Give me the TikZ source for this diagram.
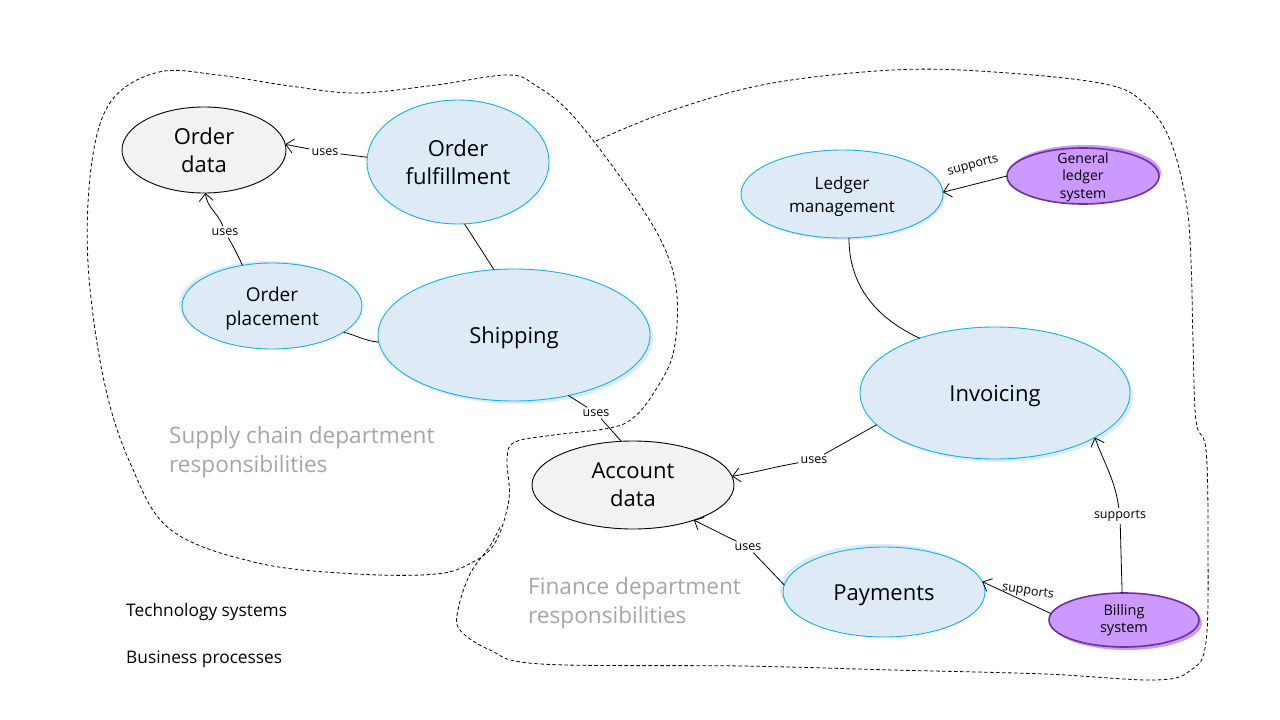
\documentclass[tikz,border=0pt]{standalone}
\usepackage{fontspec}
\setmainfont{Open Sans}
\usetikzlibrary{shapes.geometric,arrows.meta,shadows}
\definecolor{bfill}{HTML}{DEEBF7}
\definecolor{bline}{HTML}{12B2EE}
\definecolor{gfill}{HTML}{F2F2F2}
\definecolor{pfill}{HTML}{CC99FF}
\definecolor{pline}{HTML}{7030A0}
\definecolor{dept}{HTML}{A6A6A6}
\newcommand{\lowr}[1]{\rule{0pt}{#1}}
\tikzset{
 ell/.style={ellipse, inner sep=0pt, outer sep=0pt, align=center},
 biz/.style={ell, fill=bfill, draw=bline, line width=0.9pt},
 dat/.style={ell, fill=gfill, draw=black, line width=0.9pt},
 tech/.style={ell, fill=pfill, draw=pline, line width=1.6pt, inner ysep=-8pt},
 big/.style={font=\fontsize{22}{28}\selectfont},
 mid/.style={font=\fontsize{17}{23}\selectfont},
 small/.style={font=\fontsize{14}{17.5}\selectfont},
 lbl/.style={font=\fontsize{12.5}{14}\selectfont, inner sep=2pt},
 deptlbl/.style={font=\fontsize{22.6}{28.5}\selectfont, text=dept, align=left, anchor=west, inner sep=0pt},
 legend/.style={font=\fontsize{17.3}{20}\selectfont, anchor=west, inner sep=0pt},
 conn/.style={line width=0.8pt},
 arr/.style={conn, -{Straight Barb[length=7.5pt,width=14pt]}},
 bound/.style={dash pattern=on 3.5pt off 2.5pt, line width=0.8pt},
}
\begin{document}
\begin{tikzpicture}[x=1pt,y=-1pt]
\useasboundingbox[fill=white] (0,0) rectangle (1280,720);

% department boundaries
\draw[bound] plot[smooth cycle, tension=0.6] coordinates {
 (88,263) (92,161) (112,100) (159,72) (218,75) (290,86) (357,93) (436,85)
 (507,75) (535,85) (574,117) (633,195) (665,249) (677,296) (673,354) (653,394)
 (633,418) (610,428) (554,435) (515,442) (507,459) (509,499) (495,543) (471,563)
 (436,574) (357,574) (258,563) (171,530) (131,465) (104,381)};
\draw[bound] plot[smooth, tension=0.6] coordinates {
 (596,141) (667,112) (767,84) (893,70) (994,72) (1105,84) (1145,104) (1170,140)
 (1186,201) (1191,261) (1193,341) (1196,421) (1206,450) (1208,542) (1206,642)
 (1191,670) (1155,680) (1045,674) (893,670) (742,666) (541,664) (490,650)
 (460,630) (458,610) (470,574) (490,546) (501,525)};

% nodes
\node[dat, big, minimum width=164pt, minimum height=86pt] (od) at (204,150) {Order\\data};
\node[biz, big, minimum width=182pt, minimum height=124pt] (of) at (458,162) {Order\\fulfillment};
\node[biz, font=\fontsize{19}{24}\selectfont, minimum width=180pt, minimum height=86pt,
      general shadow={fill=bfill, shadow xshift=-3pt, shadow yshift=2pt}] (op) at (272,306) {\lowr{20pt}Order\\placement};
\node[biz, big, minimum width=272pt, minimum height=132pt,
      general shadow={fill=bfill, shadow xshift=3pt, shadow yshift=-3pt}] (sh) at (514,335) {\lowr{22pt}Shipping};
\node[dat, big, minimum width=202pt, minimum height=88pt] (ad) at (633,485) {Account\\data};
\node[biz, mid, minimum width=202pt, minimum height=88pt,
      general shadow={fill=bfill, shadow xshift=2pt, shadow yshift=-2pt}] (lm) at (842,194) {\lowr{18.5pt}Ledger\\management};
\node[tech, small, minimum width=152pt, minimum height=56pt,
      general shadow={fill=pfill, shadow xshift=2pt, shadow yshift=3pt}] (gls) at (1083,176) {\lowr{13pt}General\\ledger\\system};
\node[biz, big, minimum width=270pt, minimum height=132pt,
      general shadow={fill=bfill, shadow xshift=3pt, shadow yshift=-3pt}] (inv) at (995,393) {\lowr{22pt}Invoicing};
\node[biz, big, minimum width=202pt, minimum height=90pt,
      general shadow={fill=bfill, shadow xshift=-3pt, shadow yshift=3pt}] (pay) at (884,592) {\lowr{22pt}Payments};
\node[tech, font=\fontsize{14.5}{17}\selectfont, minimum width=150pt, minimum height=54pt,
      general shadow={fill=pfill, shadow xshift=3pt, shadow yshift=-3pt}] (bill) at (1124,620) {Billing\\system};

% labels
\node[lbl] (u1) at (325,152) {uses};
\node[lbl] (u2) at (225,232) {uses};
\node[lbl] (u3) at (596,413) {uses};
\node[lbl] (u4) at (814,460) {uses};
\node[lbl] (u5) at (748,547) {uses};
\node[lbl, rotate=15] (s1) at (973,166) {supports};
\node[lbl] (s2) at (1120,516) {supports};
\node[lbl, rotate=-8] (s3) at (1028,592) {supports};

% connectors
\draw[conn] (of.177) -- (u1);
\draw[arr] (u1) -- (od.4);
\draw[conn] (op.126) to[out=115,in=-60] (u2);
\draw[arr] (u2) to[out=110,in=-85] (od.-88);
\draw[conn] (of.-84) -- (sh.107);
\draw[conn] (op.-20) to[out=-15,in=175] (sh.183);
\draw[conn] (sh.-48) -- (u3);
\draw[conn] (u3) -- (ad.105);
\draw[conn] (inv.-165) -- (u4);
\draw[arr] (u4) to[out=190,in=10] (ad.5);
\draw[conn] (pay.176) -- (u5);
\draw[arr] (u5) -- (ad.-30);
\draw[arr] (gls.180) -- (lm.1);
\draw[conn] (lm.-81) to[out=-90,in=155] (inv.144);
\draw[conn] (bill.94) -- (s2);
\draw[arr] (s2) to[out=98,in=-70] (inv.-24);
\draw[arr] (bill.175) -- (pay.6);

% department labels
\node[deptlbl] (scl) at (169,452) {Supply chain department\\responsibilities};
\node[deptlbl] (fdl) at (528,603) {Finance department\\responsibilities};

% legend
\node[legend] (lg1) at (126,612) {Technology systems};
\node[legend] (lg2) at (126,659) {Business processes};
\end{tikzpicture}
\end{document}
